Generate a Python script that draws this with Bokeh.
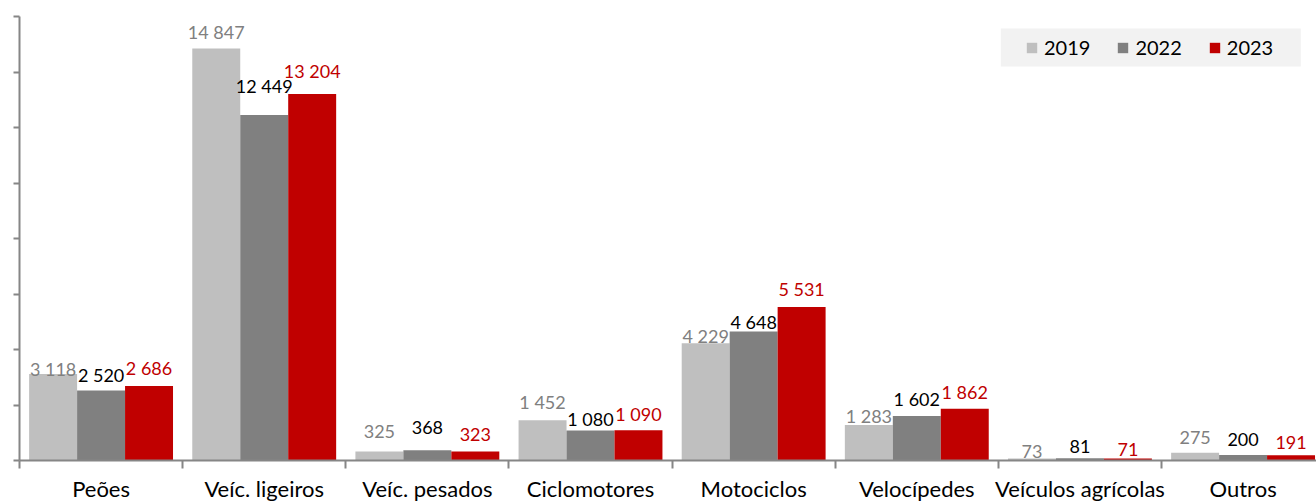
import numpy as np
from bokeh.plotting import figure
from bokeh.models import (ColumnDataSource, Range1d, FixedTicker, Legend, LegendItem,
                          BoxAnnotation)
from bokeh.core.properties import value
from bokeh.embed import file_html
from bokeh.resources import INLINE

# ---- data ----
categories = ["Peões", "Veíc. ligeiros", "Veíc. pesados", "Ciclomotores",
              "Motociclos", "Velocípedes", "Veículos agrícolas", "Outros"]
v2019 = [3118, 14847, 325, 1452, 4229, 1283, 73, 275]
v2022 = [2520, 12449, 368, 1080, 4648, 1602, 81, 200]
v2023 = [2686, 13204, 323, 1090, 5531, 1862, 71, 191]
series_names = ["2019", "2022", "2023"]
y_ticks = list(range(0, 16001, 2000))

# ---- style ----
FONT = "Lato"
bar_colors = ["#BFBFBF", "#808080", "#C00000"]
label_colors = ["#808080", "#000000", "#C00000"]
# pixel lift of each data label above its bar (as laid out in the original)
label_lift_px = [
    [5, 16, 20, 18, 7, 9, 7, 15],
    [16, 29, 23, 12, 10, 17, 12, 15],
    [18, 23, 17, 16, 18, 17, 9, 13],
]
bar_w = 0.294
dodges = [-0.294, 0.0, 0.294]
axis_color = "#868686"

n = len(categories)
centers = np.arange(n) + 0.5

p = figure(width=1316, height=504, output_backend="svg", toolbar_location=None,
           x_range=Range1d(0, 7.950), y_range=Range1d(0, 16000),
           min_border_left=19, min_border_right=0, min_border_top=16,
           min_border_bottom=43)
p.outline_line_color = None
p.grid.visible = False
p.background_fill_color = "white"

# legend background box
p.add_layout(BoxAnnotation(left=6.015, right=7.854, bottom=14202, top=15569,
                           fill_color="#F2F2F2", fill_alpha=1.0, line_color=None,
                           level="underlay"))

renderers = []
for k, vals in enumerate([v2019, v2022, v2023]):
    src = ColumnDataSource(dict(
        x=centers + dodges[k],
        top=vals,
        label=[f"{v:,}".replace(",", " ") for v in vals],
        dy=[-d for d in label_lift_px[k]],
    ))
    r = p.vbar(x="x", top="top", width=bar_w, bottom=0, source=src,
               fill_color=bar_colors[k], line_color=None)
    renderers.append(r)
    p.text(x="x", y="top", text="label", source=src, y_offset="dy",
           text_align="center", text_baseline="alphabetic",
           text_font=value(FONT), text_font_size="18px",
           text_color=label_colors[k])

legend = Legend(items=[LegendItem(label=series_names[k], renderers=[renderers[k]])
                       for k in range(3)],
                orientation="horizontal", location=(1006, 401),
                padding=0, margin=0, spacing=26,
                glyph_width=13, glyph_height=13, label_standoff=6,
                label_text_font=FONT, label_text_font_size="20px",
                label_text_color="#000000",
                background_fill_alpha=0, border_line_color=None)
p.add_layout(legend)

# x axis: labels at centers, separator ticks at boundaries
xa = p.xaxis[0]
xa.ticker = FixedTicker(ticks=list(centers), minor_ticks=list(range(n + 1)))
xa.major_label_overrides = {float(c): categories[i] for i, c in enumerate(centers)}
xa.major_tick_line_color = None
xa.major_tick_out = 0
xa.major_tick_in = 0
xa.minor_tick_out = 8
xa.minor_tick_in = 0
xa.minor_tick_line_color = axis_color
xa.axis_line_color = axis_color
xa.axis_line_width = 2
xa.minor_tick_line_width = 2
xa.major_label_standoff = 6
xa.major_label_text_font = FONT
xa.major_label_text_font_size = "22px"
xa.major_label_text_color = "#000000"

# y axis: ticks only, no tick labels
ya = p.yaxis[0]
ya.ticker = FixedTicker(ticks=y_ticks, minor_ticks=[])
ya.major_label_overrides = {t: "" for t in y_ticks}
ya.major_label_standoff = 0
ya.major_tick_out = 6
ya.major_tick_in = 0
ya.major_tick_line_color = axis_color
ya.major_tick_line_width = 2
ya.axis_line_color = axis_color
ya.axis_line_width = 2
ya.minor_tick_line_color = None

open("out.html", "w").write(file_html(p, INLINE))
